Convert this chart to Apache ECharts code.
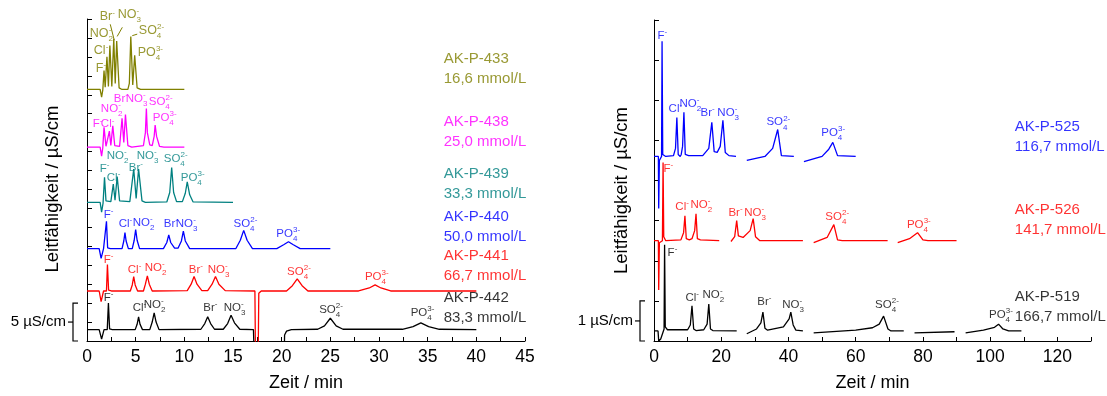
<!DOCTYPE html>
<html>
<head>
<meta charset="utf-8">
<title>Chromatogramme</title>
<script src="https://cdn.jsdelivr.net/npm/echarts@6.0.0/dist/echarts.min.js"></script>
<style>
html,body{margin:0;padding:0;background:#ffffff;}
#chart{width:1107px;height:396px;}
</style>
</head>
<body>
<div id="chart"></div>
<script>
// ================= DATA =================
// Left panel: time / min, conductivity / µS/cm as drawn (stacked traces)
const sampleNamesLeft = ['AK-P-433', 'AK-P-438', 'AK-P-439', 'AK-P-440', 'AK-P-441', 'AK-P-442'];
const concentrationsLeft = ['16,6 mmol/L', '25,0 mmol/L', '33,3 mmol/L', '50,0 mmol/L', '66,7 mmol/L', '83,3 mmol/L'];
const sampleNamesRight = ['AK-P-525', 'AK-P-526', 'AK-P-519'];
const concentrationsRight = ['116,7 mmol/L', '141,7 mmol/L', '166,7 mmol/L'];
const leftTickLabels = [0, 5, 10, 15, 20, 25, 30, 35, 40, 45];
const rightTickLabels = [0, 20, 40, 60, 80, 100, 120];

const trace433 = [[0,33.2],[1.35,33.2],[1.5,32.2],[1.62,33.1],[1.75,35.7],[1.87,33.5],[2.05,37.5],[2.2,33.6],[2.35,39.0],[2.55,33.6],[2.75,39.9],[2.9,34.0],[3.05,39.6],[3.3,33.4],[3.6,33.2],[4.2,33.2],[4.35,34.0],[4.5,40.2],[4.7,33.8],[4.9,37.7],[5.15,33.4],[5.5,33.2],[10,33.2]];
const trace438 = [[0,25.6],[1.35,25.6],[1.5,24.4],[1.62,25.5],[1.75,28.2],[1.95,25.7],[2.15,25.7],[2.3,27.7],[2.45,25.8],[2.65,28.4],[2.85,25.8],[3.35,25.7],[3.6,29.4],[3.78,26.2],[3.95,29.9],[4.2,25.8],[4.6,25.6],[5.8,25.8],[6.0,27.5],[6.1,30.7],[6.2,27.5],[6.45,25.9],[6.7,25.8],[6.9,27.0],[7.0,28.5],[7.15,27.0],[7.45,25.7],[7.9,25.6],[10,25.6]];
const trace439 = [[0,18.3],[1.35,18.3],[1.5,17.0],[1.65,18.2],[1.8,21.6],[1.95,18.5],[2.45,18.4],[2.7,20.7],[2.88,18.6],[3.1,21.7],[3.35,18.5],[4.4,18.4],[4.8,22.7],[5.05,18.8],[5.3,22.7],[5.65,18.5],[6.0,18.3],[8.2,18.35],[8.5,19.6],[8.7,22.9],[8.9,19.6],[9.2,18.4],[9.8,18.4],[10.1,19.5],[10.3,21.0],[10.55,19.3],[10.9,18.35],[15,18.3]];
const trace440 = [[0,12.2],[1.25,12.2],[1.45,10.9],[1.7,12.2],[1.9,12.2],[2.0,15.8],[2.12,12.3],[2.4,12.2],[3.6,12.2],[3.78,13.2],[3.9,14.3],[4.02,13.2],[4.25,12.2],[4.65,12.2],[4.85,13.3],[5.0,14.7],[5.15,13.3],[5.4,12.2],[7.85,12.2],[8.2,13.0],[8.4,14.0],[8.6,13.0],[9.0,12.25],[9.35,12.25],[9.7,13.2],[9.9,14.5],[10.1,13.2],[10.55,12.2],[15.3,12.2],[15.75,13.3],[16.1,14.6],[16.45,13.3],[17.0,12.2],[19.5,12.2],[20.2,12.7],[20.7,13.1],[21.2,12.7],[21.9,12.2],[25,12.2]];
const trace441 = [[0,6.6],[1.25,6.6],[1.45,5.2],[1.7,6.6],[2.0,6.6],[2.1,10.1],[2.22,6.7],[2.5,6.6],[4.45,6.6],[4.65,7.4],[4.8,8.5],[4.95,7.4],[5.2,6.6],[5.8,6.6],[6.0,7.5],[6.2,8.6],[6.4,7.5],[6.7,6.6],[10.3,6.65],[10.7,7.5],[11.0,8.5],[11.3,7.5],[11.8,6.65],[12.4,6.65],[12.85,7.5],[13.2,8.5],[13.55,7.5],[14.2,6.65],[17.25,6.6],[17.32,-3],[17.58,-3],[17.65,6.3],[17.9,6.6],[20.5,6.6],[21.1,7.3],[21.6,8.2],[22.1,7.3],[22.7,6.6],[27.9,6.6],[29.0,7.0],[29.6,7.4],[30.2,7.0],[31.2,6.6],[40,6.6]];
const trace442 = [[0,1.5],[1.25,1.5],[1.5,0.25],[1.75,1.5],[2.08,1.5],[2.2,5.0],[2.32,1.6],[2.6,1.5],[4.95,1.5],[5.15,2.2],[5.3,3.2],[5.45,2.2],[5.7,1.5],[6.45,1.5],[6.7,2.5],[6.9,3.7],[7.1,2.5],[7.4,1.5],[11.7,1.55],[12.1,2.3],[12.4,3.2],[12.7,2.3],[13.1,1.55],[14.0,1.55],[14.45,2.3],[14.8,3.4],[15.15,2.4],[15.7,1.55],[17.1,1.5],[17.2,-3],[20.25,-3],[20.3,0.8],[20.5,1.3],[21.0,1.5],[23.7,1.55],[24.4,2.0],[25.0,3.0],[25.6,2.0],[26.3,1.55],[32.4,1.55],[33.5,1.9],[34.3,2.4],[35.1,1.9],[36.2,1.55],[40,1.5]];

// Right panel: time / min, conductivity / µS/cm as drawn (null = gap in the trace)
const trace525 = [[0,4.6],[1.3,4.6],[1.4,3.3],[1.6,4.5],[2.25,4.6],[2.4,7.47],[2.6,4.65],[3.5,4.6],[5.8,4.62],[6.4,4.8],[6.8,5.57],[7.2,4.65],[7.8,4.6],[8.1,4.65],[8.5,4.85],[8.9,5.7],[9.3,4.65],[10.3,4.62],[14.5,4.62],[16.3,4.8],[17.2,5.45],[17.9,4.72],[18.8,4.7],[19.7,4.85],[20.5,5.5],[21.2,4.7],[22.3,4.62],[24.4,4.6],[24.5,null],[27.6,4.5],[33,4.6],[35.3,4.8],[36.8,5.27],[37.9,4.62],[41.6,4.6],[41.7,null],[44.6,4.47],[50,4.6],[52,4.78],[53.2,4.95],[54.6,4.62],[60,4.6]];
const trace526 = [[0,2.5],[1.3,2.5],[1.4,1.27],[1.6,2.45],[2.5,2.5],[2.7,4.45],[2.9,2.6],[3.5,2.5],[8.0,2.52],[8.8,2.7],[9.2,3.12],[9.6,2.55],[10.5,2.52],[11.3,2.55],[12.1,2.75],[12.5,3.17],[12.9,2.55],[13.8,2.52],[19.4,2.5],[19.5,null],[22.9,2.48],[24.0,2.6],[24.6,3.0],[25.1,2.62],[26.5,2.58],[28.6,2.75],[29.5,3.05],[30.2,2.6],[31.5,2.5],[44.3,2.5],[44.4,null],[47.5,2.45],[51.5,2.58],[53.5,2.9],[54.6,2.52],[56,2.5],[69.5,2.5],[69.6,null],[72.5,2.45],[76,2.55],[78.4,2.7],[80,2.52],[81.5,2.5],[90,2.5]];
const trace519 = [[0,0.25],[1.2,0.25],[1.4,0.0],[2.0,0.05],[2.6,0.2],[3.0,0.3],[3.15,2.4],[3.35,0.35],[4,0.28],[10.0,0.28],[10.8,0.4],[11.3,0.88],[11.8,0.3],[12.5,0.26],[14.8,0.28],[15.8,0.42],[16.3,0.92],[16.8,0.3],[17.5,0.26],[24.6,0.25],[24.7,null],[27.6,0.18],[30.5,0.3],[31.8,0.45],[32.4,0.72],[33.0,0.32],[33.8,0.27],[38.5,0.35],[40.2,0.55],[40.7,0.72],[41.4,0.4],[42.2,0.27],[44.3,0.25],[44.4,null],[47.5,0.2],[60,0.27],[65,0.33],[67,0.42],[68.3,0.62],[69.6,0.3],[70.5,0.25],[74.3,0.25],[74.4,null],[77.5,0.2],[89.4,0.23],[89.5,null],[92.7,0.2],[98,0.27],[101.3,0.34],[102.5,0.42],[103.8,0.3],[105.5,0.25],[109.3,0.25]];

// Ion names: [symbol, subscript, charge]
const ionText = {
  F: ['F', '', '-'], Cl: ['Cl', '', '-'], Br: ['Br', '', '-'],
  NO2: ['NO', '2', '-'], NO3: ['NO', '3', '-'], SO4: ['SO', '4', '2-'], PO4: ['PO', '4', '3-']
};

// ================= ANNOTATION PLACEMENT (data coordinates) =================
const ionAnchors = {
  433: [['F',0.85,35.9],['Cl',0.65,38.3],['NO2',0.24,40.6],['Br',1.26,42.8],['NO3',3.11,43.1],['SO4',5.27,41.0],['PO4',5.16,38.1]],
  438: [['F',0.54,28.6],['Cl',1.37,28.6],['NO2',1.37,30.6],['Br',2.7,32.0],['NO3',3.93,32.0],['SO4',6.29,31.6],['PO4',6.7,29.4]],
  439: [['NO2',1.98,24.4],['NO3',5.06,24.4],['SO4',7.83,24.0],['F',1.26,22.7],['Cl',1.98,21.6],['Br',4.24,22.9],['PO4',9.58,21.5]],
  440: [['F',1.67,16.6],['Cl',3.21,15.5],['NO2',4.65,15.6],['Br',7.83,15.5],['NO3',9.07,15.5],['SO4',15.0,15.5],['PO4',19.4,14.1]],
  441: [['F',1.67,10.7],['Cl',4.14,9.4],['NO2',5.88,9.7],['Br',10.4,9.4],['NO3',12.35,9.4],['SO4',20.5,9.15],['PO4',28.5,8.5]],
  442: [['F',1.67,5.7],['Cl',4.65,4.4],['NO2',5.78,4.8],['Br',11.9,4.4],['NO3',14.0,4.4],['SO4',23.8,4.1],['PO4',33.2,3.7]],
  525: [['F',0.9,7.6],['Cl',4.2,5.78],['NO2',7.4,5.9],['Br',13.7,5.68],['NO3',18.7,5.68],['SO4',33.3,5.45],['PO4',49.6,5.18]],
  526: [['F',2.7,4.28],['Cl',6.2,3.35],['NO2',10.7,3.4],['Br',22.0,3.2],['NO3',26.7,3.2],['SO4',50.8,3.1],['PO4',75.1,2.9]],
  519: [['F',3.9,2.2],['Cl',9.2,1.08],['NO2',14.3,1.15],['Br',30.6,0.98],['NO3',38.0,0.9],['SO4',65.6,0.9],['PO4',99.5,0.65]]
};
const leaderLines433 = [[[2.39,41.8],[2.8,39.7]], [[3.63,41.4],[3.1,40.2]], [[5.16,40.5],[4.65,40.3]]];
const legendAnchorsLeft = [[36.6,35.9],[36.6,27.6],[36.6,20.7],[36.6,15.0],[36.6,9.9],[36.6,4.4]];
const legendAnchorsRight = [[107.2,5.08],[107.2,3.03],[107.2,0.86]];

// ================= STYLE =================
const FONT = '"Liberation Sans", Arial, Helvetica, sans-serif';
const colorsLeft = ['#808000', '#FF00FF', '#008080', '#0000FF', '#FF0000', '#000000'];
const colorsRight = ['#0000FF', '#FF0000', '#000000'];
const tracesLeft = [trace433, trace438, trace439, trace440, trace441, trace442];
const tracesRight = [trace525, trace526, trace519];
const keysLeft = [433, 438, 439, 440, 441, 442];
const keysRight = [525, 526, 519];

function ionRichString(key) {
  const [b, sub, sup] = ionText[key];
  let s = '{m|' + b + '}';
  if (sub) s += '{sub|' + sub + '}';
  s += '{sup|' + sup + '}';
  return s;
}
function ionRich(color, size) {
  return {
    m: { fontSize: size, lineHeight: 18, color: color, fontFamily: FONT },
    sub: { fontSize: 8, verticalAlign: 'bottom', width: 0.1, color: color, fontFamily: FONT },
    sup: { fontSize: 8, verticalAlign: 'top', height: 10, color: color, fontFamily: FONT }
  };
}

const series = [];
function addPanel(panel, traces, keys, colors, names, concs, legendAnchors) {
  traces.forEach((tr, i) => {
    series.push({
      type: 'line', xAxisIndex: panel, yAxisIndex: panel, data: tr,
      symbol: 'none', showSymbol: false, connectNulls: false, clip: true,
      lineStyle: { color: colors[i], width: 1.3 }, silent: true, animation: false, z: 2
    });
    const size = (panel === 0 && i === 0) ? 12.5 : 11.5;
    series.push({
      type: 'scatter', xAxisIndex: panel, yAxisIndex: panel, clip: false,
      symbolSize: 1, itemStyle: { color: 'rgba(0,0,0,0)' }, silent: true, animation: false, z: 3,
      data: ionAnchors[keys[i]].map(([ion, t, v]) => ({ value: [t, v], label: { formatter: ionRichString(ion) } })),
      label: { show: true, position: 'right', distance: 0, align: 'left', verticalAlign: 'middle', rich: ionRich(colors[i], size) }
    });
    series.push({
      type: 'scatter', xAxisIndex: panel, yAxisIndex: panel, clip: false,
      symbolSize: 1, itemStyle: { color: 'rgba(0,0,0,0)' }, silent: true, animation: false, z: 3,
      data: [{ value: legendAnchors[i], label: { formatter: names[i] + '\n' + concs[i] } }],
      label: { show: true, position: 'right', distance: 0, align: 'left', verticalAlign: 'middle',
               color: colors[i], fontSize: 15, lineHeight: 20, fontFamily: FONT }
    });
  });
}
addPanel(0, tracesLeft, keysLeft, colorsLeft, sampleNamesLeft, concentrationsLeft, legendAnchorsLeft);
addPanel(1, tracesRight, keysRight, colorsRight, sampleNamesRight, concentrationsRight, legendAnchorsRight);
leaderLines433.forEach(seg => series.push({
  type: 'line', xAxisIndex: 0, yAxisIndex: 0, data: seg, symbol: 'none', clip: false,
  lineStyle: { color: '#808000', width: 1 }, silent: true, animation: false
}));

function xAxisFor(panel, max, interval, labels) {
  return {
    type: 'value', gridIndex: panel, min: 0, max: max, interval: interval,
    name: 'Zeit / min', nameLocation: 'middle', nameGap: 33,
    nameTextStyle: { fontSize: 18, color: '#000', fontFamily: FONT },
    axisLine: { show: true, onZero: false, lineStyle: { color: '#000', width: 1 } },
    axisTick: { show: true, inside: true, length: 4, lineStyle: { color: '#000', width: 1 } },
    minorTick: { show: false }, splitLine: { show: false },
    axisLabel: { show: true, margin: 7, fontSize: 17.5, color: '#000', fontFamily: FONT,
                 showMaxLabel: true, showMinLabel: true,
                 formatter: v => labels.includes(Math.round(v * 100) / 100) ? String(v) : '' }
  };
}
function yAxisFor(panel, max, interval) {
  return {
    type: 'value', gridIndex: panel, min: 0, max: max, interval: interval,
    axisLine: { show: true, onZero: false, lineStyle: { color: '#000', width: 1 } },
    axisTick: { show: true, inside: true, length: 5, lineStyle: { color: '#000', width: 1 } },
    axisLabel: { show: false }, splitLine: { show: false }
  };
}

const chart = echarts.init(document.getElementById('chart'), null, { renderer: 'canvas' });
chart.setOption({
  backgroundColor: '#ffffff',
  animation: false,
  textStyle: { fontFamily: FONT },
  grid: [
    { left: 87, top: 19, width: 438, height: 322, outerBoundsMode: 'none', containLabel: false },
    { left: 654, top: 20, width: 437, height: 321, outerBoundsMode: 'none', containLabel: false }
  ],
  xAxis: [xAxisFor(0, 45, 2.5, leftTickLabels), xAxisFor(1, 130, 10, rightTickLabels)],
  yAxis: [yAxisFor(0, 42.5, 2.5), yAxisFor(1, 8, 1)],
  series: series
});

// Scale bars and y axis titles, positioned through the axes
function scaleBar(panel, top, label) {
  const p0 = chart.convertToPixel({ gridIndex: panel }, [0, 0]);
  const p1 = chart.convertToPixel({ gridIndex: panel }, [0, top]);
  const x = p0[0] - 14, yb = p0[1], yt = p1[1], ym = (yb + yt) / 2;
  return [
    { type: 'polyline', shape: { points: [[x + 5, yt], [x, yt], [x, yb], [x + 5, yb]] }, style: { stroke: '#000', lineWidth: 1.2, fill: null } },
    { type: 'line', shape: { x1: x - 5, y1: ym, x2: x, y2: ym }, style: { stroke: '#000', lineWidth: 1.2 } },
    { type: 'text', x: x - 7, y: ym, style: { text: label, fill: '#000', font: '15px ' + FONT, align: 'right', verticalAlign: 'middle' } }
  ];
}
function yTitle(panel, dx, dy) {
  const pb = chart.convertToPixel({ gridIndex: panel }, [0, 0]);
  const pt = chart.convertToPixel({ gridIndex: panel }, [0, panel === 0 ? 42.5 : 8]);
  return { type: 'text', x: pb[0] - dx, y: (pb[1] + pt[1]) / 2 + dy, rotation: Math.PI / 2,
           style: { text: 'Leitfähigkeit / µS/cm', fill: '#000', font: '18.5px ' + FONT, align: 'center', verticalAlign: 'middle' } };
}
chart.setOption({
  graphic: [].concat(scaleBar(0, 5, '5 µS/cm'), scaleBar(1, 1, '1 µS/cm'), [yTitle(0, 34, 9), yTitle(1, 32, 10)])
});
</script>
</body>
</html>
